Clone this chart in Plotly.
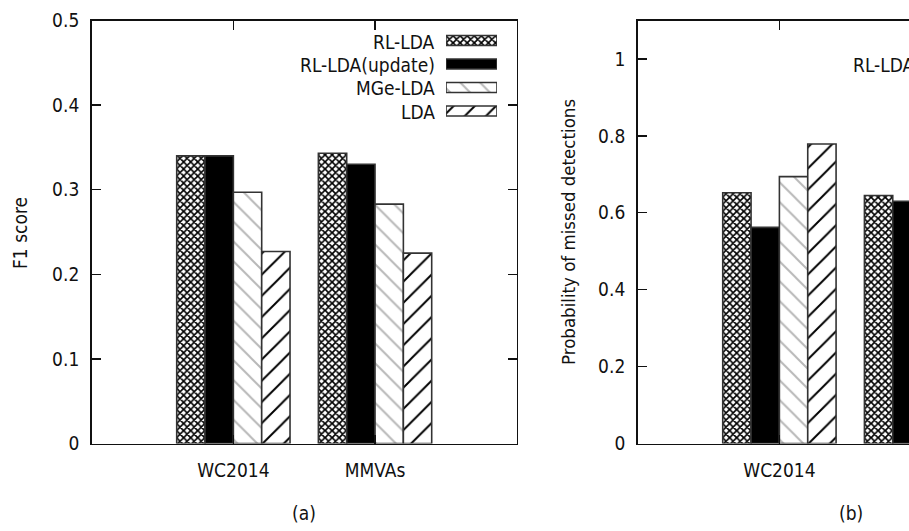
import plotly.graph_objects as go

# ---- data -------------------------------------------------------------
datasets = ["WC2014", "MMVAs"]
methods = ["RL-LDA", "RL-LDA(update)", "MGe-LDA", "LDA"]

f1_score = {
    "RL-LDA": [0.340, 0.343],
    "RL-LDA(update)": [0.340, 0.330],
    "MGe-LDA": [0.297, 0.283],
    "LDA": [0.227, 0.225],
}
missed_prob = {
    "RL-LDA": [0.652, 0.645],
    "RL-LDA(update)": [0.562, 0.630],
    "MGe-LDA": [0.694, 0.700],
    "LDA": [0.779, 0.770],
}

f1_ticks = [0, 0.1, 0.2, 0.3, 0.4, 0.5]
prob_ticks = [0, 0.2, 0.4, 0.6, 0.8, 1.0]

# ---- styling ----------------------------------------------------------
FONT = "DejaVu Sans Condensed, DejaVu Sans"
INK = "#111111"
FS = 19
W, H = 909, 531

styles = {
    "RL-LDA": dict(shape="x", fg="#000000", bg="#ffffff", size=5, solidity=0.55),
    "RL-LDA(update)": dict(shape="", fg="#000000", bg="#000000", size=8, solidity=0.3),
    "MGe-LDA": dict(shape="\\", fg="#b8b8b8", bg="#ffffff", size=14, solidity=0.14),
    "LDA": dict(shape="/", fg="#000000", bg="#ffffff", size=15, solidity=0.13),
}


def px_x(x):
    return x / W


def px_y(y):
    return 1 - y / H


def bar_marker(m):
    s = styles[m]
    return dict(
        color=s["bg"],
        line=dict(color="#333333", width=1.6),
        pattern=dict(shape=s["shape"], fgcolor=s["fg"], bgcolor=s["bg"],
                     size=s["size"], solidity=s["solidity"], fillmode="replace"),
    )


fig = go.Figure()


def add_bars(values, xa, ya):
    for m in methods:
        fig.add_trace(go.Bar(
            x=datasets, y=values[m], name=m, xaxis=xa, yaxis=ya,
            showlegend=False, marker=bar_marker(m),
        ))


add_bars(f1_score, "x", "y")
add_bars(missed_prob, "x2", "y2")

# key swatches for panel (a), drawn on their own hidden axes
for i, m in enumerate(methods):
    fig.add_trace(go.Bar(
        x=[1], y=[i], orientation="h", width=0.42, offset=-0.21,
        xaxis="x3", yaxis="y3", showlegend=False, marker=bar_marker(m),
    ))

plot_top, plot_bottom = 20.5, 443.5
ydom = [px_y(plot_bottom), px_y(plot_top)]

axis_common = dict(
    showline=True, linecolor="#111111", linewidth=1.6,
    ticks="inside", ticklen=9, tickwidth=1.4, tickcolor="#111111",
    showgrid=False, zeroline=False, automargin=False,
    tickfont=dict(family=FONT, size=FS, color=INK),
    fixedrange=True,
)

fig.update_layout(
    width=W, height=H,
    margin=dict(l=0, r=0, t=0, b=0, pad=0, autoexpand=False),
    paper_bgcolor="white", plot_bgcolor="rgba(0,0,0,0)",
    barmode="group", bargap=0.2, bargroupgap=0.0,
    font=dict(family=FONT, size=FS, color=INK),
    xaxis=dict(domain=[px_x(91.7), px_x(516.7)], anchor="y", type="category",
               range=[-1, 2], mirror="ticks", ticklabelstandoff=9, **axis_common),
    yaxis=dict(domain=ydom, anchor="x", range=[0, 0.5], tickvals=f1_ticks,
               mirror="ticks", ticklabelstandoff=7, **axis_common),
    xaxis2=dict(domain=[px_x(637.7), 1.0], anchor="y2", type="category",
                range=[-1, -1 + (W - 637.7) / 141.7], mirror="ticks",
                ticklabelstandoff=9, **axis_common),
    yaxis2=dict(domain=ydom, anchor="x2", range=[0, 1.1], tickvals=prob_ticks,
                mirror=False, ticklabelstandoff=7, **axis_common),
    xaxis3=dict(domain=[px_x(446), px_x(497)], anchor="y3", range=[0, 1],
                visible=False, fixedrange=True, automargin=False),
    yaxis3=dict(domain=[px_y(122.75), px_y(28.75)], anchor="x3",
                range=[len(methods) - 0.5, -0.5], visible=False,
                fixedrange=True, automargin=False),
)

annotations = []
# key labels of panel (a)
row_centres = [40.0, 63.5, 87.0, 110.5]
for m, yc in zip(methods, row_centres):
    annotations.append(dict(
        text=m, x=px_x(437), y=px_y(yc + 1.5), xref="paper", yref="paper",
        xanchor="right", yanchor="middle", showarrow=False,
        font=dict(family=FONT, size=FS, color=INK),
    ))
# key of panel (b)
annotations.append(dict(
    text=methods[0], x=px_x(851), y=px_y(65), xref="paper", yref="paper",
    xanchor="left", yanchor="middle", showarrow=False,
    font=dict(family=FONT, size=FS, color=INK),
))
# axis titles
annotations.append(dict(
    text="F1 score", x=px_x(20), y=px_y(233), xref="paper", yref="paper",
    textangle=-90, xanchor="center", yanchor="middle", showarrow=False,
    font=dict(family=FONT, size=FS, color=INK),
))
annotations.append(dict(
    text="Probability of missed detections", x=px_x(568), y=px_y(232),
    xref="paper", yref="paper", textangle=-90, xanchor="center",
    yanchor="middle", showarrow=False,
    font=dict(family=FONT, size=18.5, color=INK),
))
# panel captions
annotations.append(dict(
    text="(a)", x=px_x(304), y=px_y(513), xref="paper", yref="paper",
    xanchor="center", yanchor="middle", showarrow=False,
    font=dict(family=FONT, size=FS, color=INK),
))
annotations.append(dict(
    text="(b)", x=px_x(851), y=px_y(513), xref="paper", yref="paper",
    xanchor="center", yanchor="middle", showarrow=False,
    font=dict(family=FONT, size=FS, color=INK),
))
fig.update_layout(annotations=annotations)

fig.write_html("out.html", config={"displayModeBar": False, "staticPlot": True})
